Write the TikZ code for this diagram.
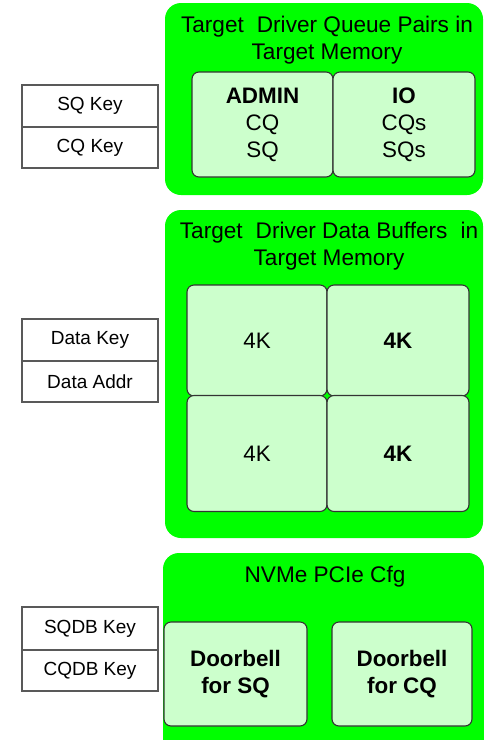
\documentclass[tikz,border=0pt]{standalone}
\usepackage{fontspec}
\setmainfont{Liberation Sans}
\definecolor{regiongreen}{HTML}{00FF00}
\definecolor{cellgreen}{HTML}{CCFFCC}
\definecolor{cellline}{HTML}{333333}
\definecolor{keyline}{HTML}{595959}
\tikzset{
  region/.style={fill=regiongreen, draw=none, rounded corners=16pt, inner sep=0pt},
  regiontitle/.style={align=center, inner sep=0pt, font=\fontsize{22.6}{27}\selectfont},
  cell/.style={fill=cellgreen, draw=cellline, line width=1.1pt, rounded corners=7pt,
    align=center, inner sep=0pt, font=\fontsize{22.4}{27}\selectfont},
  keybox/.style={fill=white, draw=keyline, line width=1.4pt, inner sep=0pt,
    minimum width=136pt, font=\fontsize{19}{22}\selectfont},
}
\begin{document}
\begin{tikzpicture}[x=1pt,y=-1pt]
\clip (0,0) rectangle (484,740);
\fill[white] (0,0) rectangle (484,740);

% Queue pair region
\node[region, minimum width=318pt, minimum height=192pt] (qp) at (324,99) {};
\node[regiontitle] (qptitle) at (327,40) {Target\hspace{0.3em} Driver Queue Pairs in\\Target Memory};
\node[cell, minimum width=141pt, minimum height=105pt] (admin) at (262.5,124.5)
  {\textbf{ADMIN}\\CQ\\SQ};
\node[cell, minimum width=142pt, minimum height=105pt] (io) at (404,124.5)
  {\textbf{IO}\\CQs\\SQs};

% Data buffer region
\node[region, minimum width=318pt, minimum height=328pt] (db) at (324,374) {};
\node[regiontitle] (dbtitle) at (329,246) {Target\hspace{0.3em} Driver Data Buffers\hspace{0.3em} in\\Target Memory};
\node[cell, minimum width=140pt, minimum height=111pt] (b11) at (257,340.5) {4K};
\node[cell, minimum width=142pt, minimum height=111pt] (b12) at (398,340.5) {\textbf{4K}};
\node[cell, minimum width=140pt, minimum height=116pt] (b21) at (257,453.5) {4K};
\node[cell, minimum width=142pt, minimum height=116pt] (b22) at (398,453.5) {\textbf{4K}};

% PCIe configuration region
\node[region, minimum width=321pt, minimum height=210pt] (cfg) at (323.5,658) {};
\node[regiontitle, anchor=base] (cfgtitle) at (325,582) {NVMe PCIe Cfg};
\node[cell, minimum width=143pt, minimum height=104pt] (dbsq) at (235.5,674)
  {\textbf{Doorbell}\\\textbf{for SQ}};
\node[cell, minimum width=140pt, minimum height=104pt] (dbcq) at (402,674)
  {\textbf{Doorbell}\\\textbf{for CQ}};

% Key tables
\node[keybox, minimum height=42pt] (sqkey) at (90,106) {SQ Key};
\node[keybox, minimum height=41pt] (cqkey) at (90,147.5) {CQ Key};
\node[keybox, minimum height=42pt] (datakey) at (90,340) {Data Key};
\node[keybox, minimum height=41pt] (dataaddr) at (90,381.5) {Data Addr};
\node[keybox, minimum height=43pt] (sqdbkey) at (90,628.5) {SQDB Key};
\node[keybox, minimum height=41pt] (cqdbkey) at (90,670.5) {CQDB Key};
\end{tikzpicture}
\end{document}
